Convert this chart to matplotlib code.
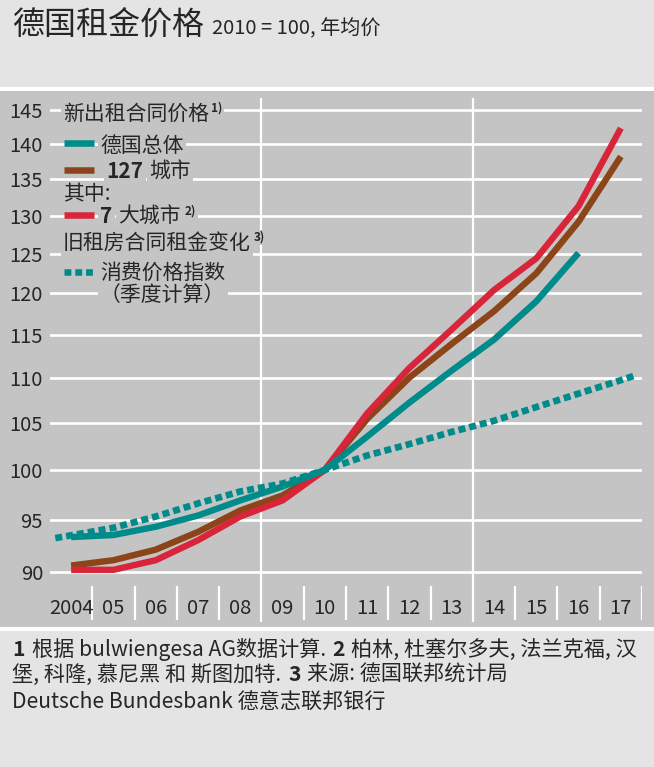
import matplotlib
matplotlib.use('Agg')
import matplotlib.pyplot as plt
from matplotlib.lines import Line2D
from matplotlib.patches import Rectangle
from matplotlib.ticker import NullLocator, FixedLocator, FixedFormatter

plt.rcParams['font.family'] = ['Noto Sans CJK SC', 'DejaVu Sans']
plt.rcParams['font.weight'] = 'light'

# ---------------- data ----------------
years = [2004, 2005, 2006, 2007, 2008, 2009, 2010, 2011, 2012, 2013, 2014, 2015, 2016, 2017]
year_labels = ['2004', '05', '06', '07', '08', '09', '10', '11', '12', '13', '14', '15', '16', '17']
germany = [93.3, 93.5, 94.3, 95.4, 96.9, 98.3, 100.0, 103.5, 107.2, 110.8, 114.4, 119.0, 125.1]
cities127 = [90.6, 91.1, 92.1, 93.8, 95.9, 97.4, 100.0, 105.4, 110.0, 113.9, 117.8, 122.5, 129.2, 138.2]
cities7 = [90.2, 90.2, 91.1, 93.0, 95.3, 96.9, 100.0, 106.0, 111.1, 115.6, 120.4, 124.4, 131.3, 142.3]
# consumer price index (quarterly), sampled: first quarter 2004, each year, last quarter 2017
cpi_time = [2003.625, 2005, 2006, 2007, 2008, 2009, 2010, 2011, 2012, 2013, 2014, 2015, 2016, 2017, 2017.375]
cpi = [93.2, 94.2, 95.3, 96.6, 97.8, 98.6, 100.0, 101.5, 102.7, 104.0, 105.2, 106.7, 108.2, 109.7, 110.3]
yticks = [90, 95, 100, 105, 110, 115, 120, 125, 130, 135, 140, 145]

# ---------------- style ----------------
W, H = 654, 767
TEAL = '#008b8b'
BROWN = '#8c4519'
RED = '#d8253a'
PANEL = '#c4c4c4'
LIGHT = '#e4e4e4'
TXT = '#262626'
DOTS = (0, (1.05, 0.6))

fig = plt.figure(figsize=(W / 100, H / 100), dpi=100)
fig.patch.set_facecolor(LIGHT)


def fy(y):
    return 1 - y / H


# panel background and white separators
fig.add_artist(Rectangle((0, fy(627)), 1, (627 - 90) / H, transform=fig.transFigure,
                         facecolor=PANEL, edgecolor='none', zorder=-10))
fig.add_artist(Rectangle((0, fy(91)), 1, 4 / H, transform=fig.transFigure,
                         facecolor='white', edgecolor='none', zorder=-9))
fig.add_artist(Rectangle((0, fy(631)), 1, 4 / H, transform=fig.transFigure,
                         facecolor='white', edgecolor='none', zorder=-9))

ax = fig.add_axes([50 / W, fy(622), (642 - 50) / W, (622 - 98) / H])
ax.set_facecolor('none')
for s in ax.spines.values():
    s.set_visible(False)

ax.set_yscale('log')
ax.set_xlim(2003.5, 2017.5)
ax.set_ylim(85.47, 146.8)
ax.yaxis.set_major_locator(FixedLocator(yticks))
ax.yaxis.set_major_formatter(FixedFormatter([str(v) for v in yticks]))
ax.yaxis.set_minor_locator(NullLocator())
ax.set_xticks(years)
ax.set_xticklabels(year_labels)
ax.tick_params(axis='y', length=0, pad=5, labelsize=14.5, labelcolor=TXT)
ax.tick_params(axis='x', length=0, pad=-17.5, labelsize=14.5, labelcolor=TXT)

for v in yticks:
    ax.axhline(v, color='white', lw=1.9, zorder=1)
for xb in [2008.5, 2013.5]:
    ax.axvline(xb, color='white', lw=1.6, zorder=1)
sep = [y + 0.5 for y in years if y + 0.5 not in (2008.5, 2013.5)]
ax.vlines(sep, 0.004, 0.069, transform=ax.get_xaxis_transform(), color='white', lw=1.6, zorder=1)

ax.plot(years[:len(germany)], germany, color=TEAL, lw=4.6, solid_capstyle='butt', zorder=4)
ax.plot(years, cities127, color=BROWN, lw=4.6, solid_capstyle='butt', zorder=3)
ax.plot(years, cities7, color=RED, lw=4.6, solid_capstyle='butt', zorder=3.5)
ax.plot(cpi_time, cpi, color=TEAL, lw=4.8, linestyle=DOTS,
        dash_capstyle='butt', zorder=4.5)

# ---------------- texts ----------------
renderer = fig.canvas.get_renderer()
MASK = dict(boxstyle='square,pad=0.12', facecolor=PANEL, edgecolor='none')


def pieces(x, y, items, mask=None):
    """Draw consecutive text pieces starting at image pixel x on baseline y."""
    cx = x
    for item in items:
        txt, kw = item[0], dict(item[1])
        gap = kw.pop('gap', 0)
        dy = kw.pop('dy', 0)
        cx += gap
        kw.setdefault('color', TXT)
        t = fig.text(cx / W, fy(y - dy), txt, ha='left', va='baseline',
                     bbox=mask, **kw)
        bb = t.get_window_extent(renderer)
        cx = bb.x1
    return cx


# title
pieces(12, 34, [('德国租金价格', dict(fontsize=23)),
                 ('2010 = 100, 年均价', dict(fontsize=14.5, gap=8))])

# legend
LF = 15
SUP = dict(fontsize=8.5, fontweight='bold', dy=8)
pieces(63, 120, [('新出租合同价格', dict(fontsize=LF)), ('1)', dict(SUP, gap=2))], mask=MASK)
pieces(100, 152, [('德国总体', dict(fontsize=LF))], mask=MASK)
pieces(106, 178, [('127', dict(fontsize=LF, fontweight='bold')),
                  ('城市', dict(fontsize=LF, gap=6))], mask=MASK)
pieces(63, 200, [('其中:', dict(fontsize=LF))], mask=MASK)
pieces(100, 223, [('7', dict(fontsize=LF, fontweight='bold')),
                  ('大城市', dict(fontsize=LF, gap=6)), ('2)', dict(SUP, gap=4))], mask=MASK)
pieces(63, 249, [('旧租房合同租金变化', dict(fontsize=LF)), ('3)', dict(SUP, gap=3))], mask=MASK)
pieces(100, 279, [('消费价格指数', dict(fontsize=LF))], mask=MASK)
pieces(100, 301, [('（季度计算）', dict(fontsize=LF))], mask=MASK)

for yy, col, ls in [(143, TEAL, '-'), (170, BROWN, '-'), (215, RED, '-'), (272, TEAL, DOTS)]:
    fig.add_artist(Line2D([64 / W, 94 / W], [fy(yy), fy(yy)], transform=fig.transFigure,
                          color=col, lw=4.7, linestyle=ls, solid_capstyle='butt',
                          dash_capstyle='butt', zorder=5))

# footnotes
FF = 15.2
pieces(12, 656, [('1', dict(fontsize=FF, fontweight='bold')),
                 ('根据 bulwiengesa AG数据计算.', dict(fontsize=FF, gap=7)),
                 ('2', dict(fontsize=FF, fontweight='bold', gap=7)),
                 ('柏林, 杜塞尔多夫, 法兰克福, 汉', dict(fontsize=FF, gap=6))])
pieces(12, 681, [('堡, 科隆, 慕尼黑 和 斯图加特.', dict(fontsize=FF)),
                 ('3', dict(fontsize=FF, fontweight='bold', gap=7)),
                 ('来源: 德国联邦统计局', dict(fontsize=FF, gap=6))])
pieces(12, 709, [('Deutsche Bundesbank 德意志联邦银行', dict(fontsize=FF))])

fig.savefig('out.png', dpi=100, facecolor=fig.get_facecolor())
